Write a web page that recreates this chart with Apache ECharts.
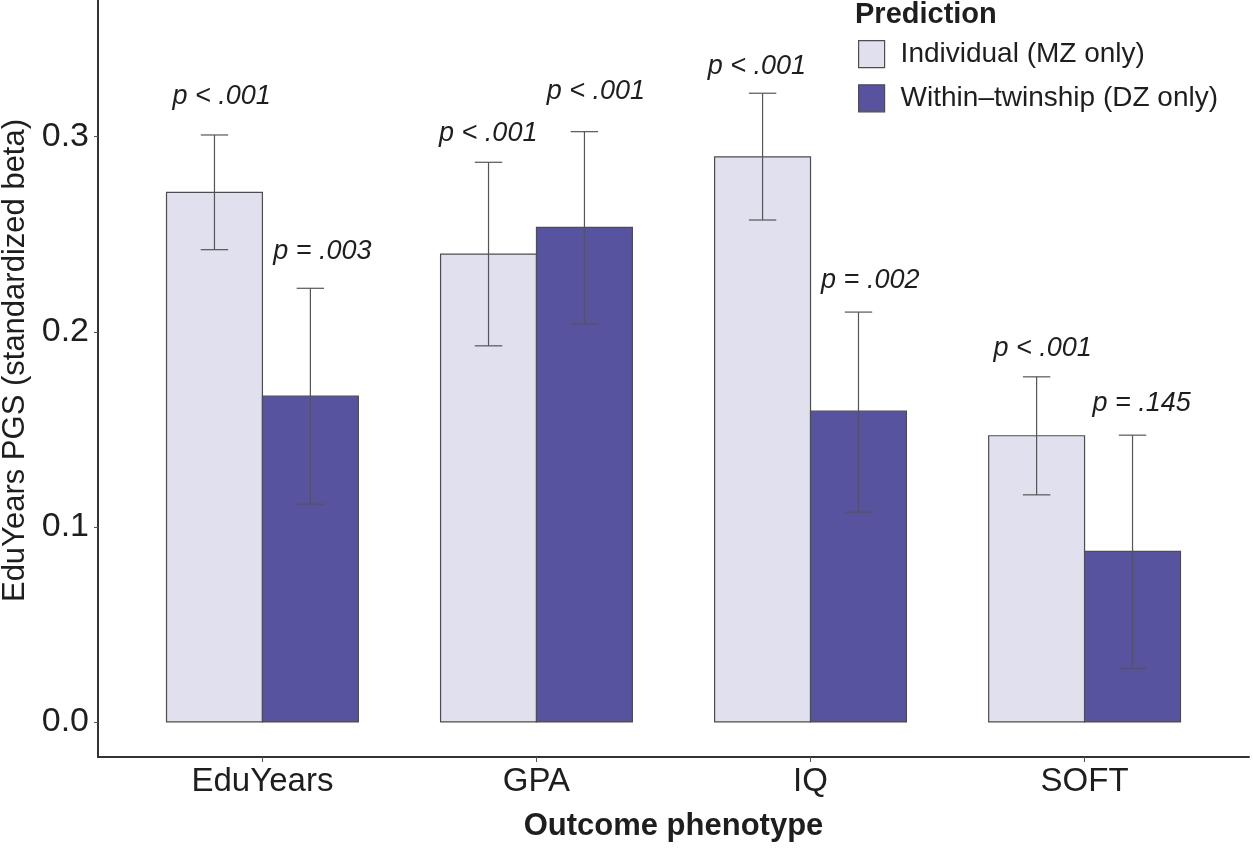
<!DOCTYPE html>
<html>
<head>
<meta charset="utf-8">
<script src="https://cdn.jsdelivr.net/npm/echarts@6/dist/echarts.min.js"></script>
<style>
html,body{margin:0;padding:0;background:#fff;}
#chart{width:1253px;height:856px;}
</style>
</head>
<body>
<div id="chart"></div>
<script>
// ---- data ----
const categories = ['EduYears', 'GPA', 'IQ', 'SOFT'];
const groupNames = ['Individual (MZ only)', 'Within\u2013twinship (DZ only)'];
const mzBeta = [0.2715, 0.2398, 0.2897, 0.1467];
const mzLow  = [0.2421, 0.1928, 0.2573, 0.1164];
const mzHigh = [0.3009, 0.2869, 0.3223, 0.1769];
const dzBeta = [0.1670, 0.2535, 0.1593, 0.0874];
const dzLow  = [0.1116, 0.2041, 0.1075, 0.0274];
const dzHigh = [0.2223, 0.3026, 0.2101, 0.1470];
const mzP = ['p < .001', 'p < .001', 'p < .001', 'p < .001'];
const dzP = ['p = .003', 'p < .001', 'p = .002', 'p = .145'];
// annotation anchor points (data units)
const mzLabelX = [0.851, 1.824, 2.804, 3.847];
const mzLabelY = [0.3205, 0.3017, 0.3359, 0.1915];
const dzLabelX = [1.219, 2.217, 3.218, 4.208];
const dzLabelY = [0.2410, 0.3231, 0.2265, 0.1633];
const yTicks = [0, 0.1, 0.2, 0.3];
const xTicks = [1, 2, 3, 4];

// ---- style ----
const FONT = 'Liberation Sans, Arial, Helvetica, sans-serif';
const colors = ['#e0e0ef', '#57539e'];
const edge = '#4d4d4d';
const BAR_W = 0.35;   // in category units
const CAP_W = 0.1;
const textColor = '#1e1e1e';

function barSeries(gi, vals) {
  const off = gi === 0 ? -BAR_W / 2 : BAR_W / 2;
  return {
    type: 'custom',
    name: groupNames[gi],
    data: vals.map((v, i) => [i + 1, v]),
    renderItem: function (params, api) {
      const x = api.value(0) + off;
      const top = api.coord([x, api.value(1)]);
      const base = api.coord([x, 0]);
      const w = api.size([BAR_W, 0])[0];
      return {
        type: 'rect',
        shape: { x: top[0] - w / 2, y: top[1], width: w, height: base[1] - top[1] },
        style: { fill: colors[gi], stroke: edge, lineWidth: 1.2 }
      };
    },
    z: 2
  };
}

function errSeries(gi, lows, highs) {
  const off = gi === 0 ? -BAR_W / 2 : BAR_W / 2;
  return {
    type: 'custom',
    data: lows.map((l, i) => [i + 1, l, highs[i]]),
    renderItem: function (params, api) {
      const x = api.value(0) + off;
      const lo = api.coord([x, api.value(1)]);
      const hi = api.coord([x, api.value(2)]);
      const cw = api.size([CAP_W, 0])[0] / 2;
      const st = { stroke: '#555', lineWidth: 1.2 };
      return {
        type: 'group',
        children: [
          { type: 'line', shape: { x1: lo[0], y1: lo[1], x2: hi[0], y2: hi[1] }, style: st },
          { type: 'line', shape: { x1: lo[0] - cw, y1: lo[1], x2: lo[0] + cw, y2: lo[1] }, style: st },
          { type: 'line', shape: { x1: hi[0] - cw, y1: hi[1], x2: hi[0] + cw, y2: hi[1] }, style: st }
        ]
      };
    },
    z: 3
  };
}

function labelSeries(xs, ys, texts) {
  return {
    type: 'custom',
    data: xs.map((x, i) => [x, ys[i], i]),
    renderItem: function (params, api) {
      const p = api.coord([api.value(0), api.value(1)]);
      return {
        type: 'text',
        x: p[0], y: p[1],
        style: {
          text: texts[api.value(2)],
          fontSize: 27, fontStyle: 'italic', fontFamily: FONT,
          fill: textColor, align: 'center', verticalAlign: 'middle'
        }
      };
    },
    z: 4
  };
}

const chart = echarts.init(document.getElementById('chart'), null, { renderer: 'canvas' });
chart.setOption({
  animation: false,
  backgroundColor: '#fff',
  textStyle: { fontFamily: FONT },
  title: {
    text: 'Prediction',
    left: 855, top: 0, padding: 0,
    textStyle: { fontSize: 29, fontWeight: 'bold', color: textColor, fontFamily: FONT }
  },
  legend: {
    orient: 'vertical',
    left: 858, top: 40, padding: 0,
    itemWidth: 26, itemHeight: 27, itemGap: 16,
    selectedMode: false,
    textStyle: { fontSize: 28, color: textColor, fontFamily: FONT, padding: [0, 0, 0, 11] },
    data: [
      { name: groupNames[0], icon: 'rect', itemStyle: { color: colors[0], borderColor: edge, borderWidth: 1.2 } },
      { name: groupNames[1], icon: 'rect', itemStyle: { color: colors[1], borderColor: edge, borderWidth: 1.2 } }
    ]
  },
  grid: { left: 98, right: 4, top: 0, bottom: 99, containLabel: false, outerBoundsMode: 'none' },
  xAxis: {
    type: 'value', min: 0.4, max: 4.6,
    name: 'Outcome phenotype', nameLocation: 'middle', nameGap: 54,
    nameTextStyle: { fontSize: 31, fontWeight: 'bold', color: textColor, fontFamily: FONT },
    axisLine: { show: true, onZero: false, lineStyle: { color: '#333', width: 2 } },
    axisTick: { show: true, customValues: xTicks, length: 5, lineStyle: { color: '#555', width: 1 } },
    axisLabel: {
      show: true, customValues: xTicks, margin: 8,
      formatter: function (v) { return categories[Math.round(v) - 1]; },
      fontSize: 33, color: textColor, fontFamily: FONT
    },
    splitLine: { show: false }
  },
  yAxis: {
    type: 'value', min: -0.018, max: 0.3701,
    name: 'EduYears PGS (standardized beta)', nameLocation: 'middle', nameRotate: 90, nameGap: 65,
    nameTextStyle: { fontSize: 31, color: textColor, fontFamily: FONT, padding: [0, 0, 0, 36] },
    axisLine: { show: true, onZero: false, lineStyle: { color: '#333', width: 2 } },
    axisTick: { show: true, customValues: yTicks, length: 4, lineStyle: { color: '#555', width: 1 } },
    axisLabel: {
      show: true, customValues: yTicks, margin: 9,
      formatter: function (v) { return v.toFixed(1); },
      fontSize: 34, color: textColor, fontFamily: FONT
    },
    splitLine: { show: false }
  },
  series: [
    barSeries(0, mzBeta),
    barSeries(1, dzBeta),
    errSeries(0, mzLow, mzHigh),
    errSeries(1, dzLow, dzHigh),
    labelSeries(mzLabelX, mzLabelY, mzP),
    labelSeries(dzLabelX, dzLabelY, dzP)
  ]
});
</script>
</body>
</html>
